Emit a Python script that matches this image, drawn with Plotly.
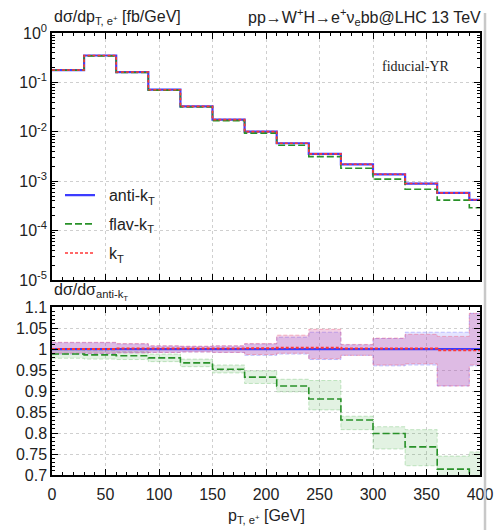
import plotly.graph_objects as go
from plotly.subplots import make_subplots

# ---------------- data ----------------
bin_edges = [0, 30, 60, 90, 120, 150, 180, 210, 240, 270, 300, 330, 360, 390, 400]

xsec_antikt = [0.178, 0.350, 0.162, 0.0711, 0.0327, 0.0176, 0.0101, 0.00586,
               0.00357, 0.00220, 0.00138, 0.000897, 0.00058, 0.00042]
xsec_flavkt = [0.176, 0.345, 0.159, 0.0697, 0.0317, 0.0168, 0.00942, 0.00534,
               0.00315, 0.00183, 0.00110, 0.000688, 0.000414, 0.00029]
xsec_kt = [0.178, 0.350, 0.162, 0.0712, 0.0327, 0.0176, 0.0101, 0.00588,
           0.00358, 0.00220, 0.00138, 0.000898, 0.00058, 0.00042]

ratio_antikt = [1.0, 1.0, 1.0, 1.0, 1.0, 1.0, 1.0, 1.0, 1.0, 1.0, 1.0, 1.0, 1.0, 1.0]
ratio_flavkt = [0.988, 0.986, 0.984, 0.979, 0.967, 0.952, 0.933, 0.912, 0.881,
                0.831, 0.799, 0.767, 0.714, 0.690]
ratio_kt = [1.000, 1.000, 1.001, 1.001, 1.001, 1.001, 1.002, 1.003, 1.003,
            1.001, 1.001, 1.001, 0.997, 0.997]

band_antikt_lo = [0.988, 0.989, 0.991, 0.992, 0.993, 0.992, 0.985, 0.988, 0.975,
                  0.985, 0.960, 0.962, 0.912, 0.960]
band_antikt_hi = [1.015, 1.015, 1.012, 1.007, 1.006, 1.007, 1.012, 1.028, 1.040,
                  1.010, 1.025, 1.040, 1.040, 1.085]
band_kt_lo = [0.990, 0.990, 0.991, 0.992, 0.993, 0.992, 0.987, 0.990, 0.977,
              0.985, 0.962, 0.965, 0.912, 0.962]
band_kt_hi = [1.016, 1.016, 1.013, 1.008, 1.007, 1.008, 1.013, 1.033, 1.047,
              1.011, 1.026, 1.035, 1.030, 1.085]
band_flavkt_lo = [0.978, 0.976, 0.975, 0.970, 0.958, 0.943, 0.918, 0.898, 0.855,
                  0.808, 0.762, 0.722, 0.695, 0.650]
band_flavkt_hi = [0.998, 0.996, 0.994, 0.988, 0.976, 0.962, 0.948, 0.928, 0.925,
                  0.840, 0.815, 0.808, 0.745, 0.755]

x_ticks = [0, 50, 100, 150, 200, 250, 300, 350, 400]
y_log_tickvals = [1, 0.1, 0.01, 0.001, 0.0001, 0.00001]
y_log_ticktext = ["10<sup>0</sup>", "10<sup>-1</sup>", "10<sup>-2</sup>",
                  "10<sup>-3</sup>", "10<sup>-4</sup>", "10<sup>-5</sup>"]
y_ratio_tickvals = [0.7, 0.75, 0.8, 0.85, 0.9, 0.95, 1.0, 1.05, 1.1]
y_ratio_ticktext = ["0.7", "0.75", "0.8", "0.85", "0.9", "0.95", "1", "1.05", "1.1"]

# ---------------- styles ----------------
C_BLUE = "rgb(60,60,255)"
C_GREEN = "rgb(40,145,40)"
C_RED = "rgb(255,55,55)"
FONT = "Liberation Sans, Arial, sans-serif"
NB = "\u00a0\u00a0"


def step(v):
    return list(v) + [v[-1]]


fig = make_subplots(rows=2, cols=1, shared_xaxes=False, vertical_spacing=0.0)

# ---- top panel ----
fig.add_trace(go.Scatter(x=bin_edges, y=step(xsec_antikt), mode="lines", line_shape="hv",
                         line=dict(color=C_BLUE, width=2.2), name=NB + "anti-k<sub>T</sub>",
                         legend="legend"), row=1, col=1)
fig.add_trace(go.Scatter(x=bin_edges, y=step(xsec_flavkt), mode="lines", line_shape="hv",
                         line=dict(color=C_GREEN, width=1.6, dash="7px,3px"),
                         name=NB + "flav-k<sub>T</sub>", legend="legend2"), row=1, col=1)
fig.add_trace(go.Scatter(x=bin_edges, y=step(xsec_kt), mode="lines", line_shape="hv",
                         line=dict(color=C_RED, width=1.6, dash="3px,2px"),
                         name=NB + "k<sub>T</sub>", legend="legend3"), row=1, col=1)


# ---- ratio panel: bands ----
def band(lo, hi, fillcol, edgecol):
    fig.add_trace(go.Scatter(x=bin_edges, y=step(lo), mode="lines", line_shape="hv",
                             line=dict(color=edgecol, width=0.8, dash="4px,2px"),
                             showlegend=False, hoverinfo="skip"), row=2, col=1)
    fig.add_trace(go.Scatter(x=bin_edges, y=step(hi), mode="lines", line_shape="hv",
                             line=dict(color=edgecol, width=0.8, dash="4px,2px"),
                             fill="tonexty", fillcolor=fillcol,
                             showlegend=False, hoverinfo="skip"), row=2, col=1)


band(band_flavkt_lo, band_flavkt_hi, "rgba(60,170,60,0.15)", "rgba(60,170,60,0.35)")
band(band_antikt_lo, band_antikt_hi, "rgba(110,110,255,0.18)", "rgba(90,90,255,0.45)")
band(band_kt_lo, band_kt_hi, "rgba(205,70,150,0.26)", "rgba(240,70,100,0.45)")

fig.add_trace(go.Scatter(x=bin_edges, y=step(ratio_flavkt), mode="lines", line_shape="hv",
                         line=dict(color=C_GREEN, width=1.6, dash="7px,3px"),
                         showlegend=False), row=2, col=1)
fig.add_trace(go.Scatter(x=bin_edges, y=step(ratio_antikt), mode="lines", line_shape="hv",
                         line=dict(color=C_BLUE, width=2.2), showlegend=False), row=2, col=1)
fig.add_trace(go.Scatter(x=bin_edges, y=step(ratio_kt), mode="lines", line_shape="hv",
                         line=dict(color=C_RED, width=2.0, dash="3px,2px"),
                         showlegend=False), row=2, col=1)

axis_common = dict(showline=True, linecolor="black", linewidth=1.5, mirror="allticks",
                   ticks="inside", tickcolor="black", tickwidth=1.2, ticklen=6,
                   showgrid=True, gridcolor="#cfcfcf", griddash="dot", gridwidth=1,
                   zeroline=False, automargin=False,
                   tickfont=dict(family=FONT, size=16, color="#222"))

fig.update_xaxes(**axis_common, range=[0, 400], tickvals=x_ticks,
                 minor=dict(dtick=10, ticks="inside", ticklen=3.5, tickcolor="black",
                            showgrid=False))
fig.update_xaxes(showticklabels=False, row=1, col=1)
fig.update_xaxes(ticklabelstandoff=4, row=2, col=1)

fig.update_yaxes(**axis_common)
fig.update_yaxes(type="log", range=[-5, 0], tickvals=y_log_tickvals, ticktext=y_log_ticktext,
                 minor=dict(dtick="D1", ticks="inside", ticklen=3.5, tickcolor="black",
                            showgrid=False),
                 domain=[0.4412, 1.0], row=1, col=1)
fig.update_yaxes(range=[0.7, 1.1], tickvals=y_ratio_tickvals, ticktext=y_ratio_ticktext,
                 minor=dict(dtick=0.01, ticks="inside", ticklen=3.5, tickcolor="black",
                            showgrid=False),
                 domain=[0.0, 0.380], row=2, col=1)

leg_common = dict(xanchor="left", yanchor="middle", bgcolor="rgba(0,0,0,0)",
                  font=dict(family=FONT, size=16, color="#222"), itemwidth=30,
                  x=0.0187)

fig.update_layout(
    width=495, height=530,
    margin=dict(l=52, r=15, t=33, b=55, autoexpand=False),
    plot_bgcolor="white", paper_bgcolor="white",
    font=dict(family=FONT, size=16, color="#222"),
    showlegend=True,
    legend=dict(**leg_common, y=0.633),
    legend2=dict(**leg_common, y=0.568),
    legend3=dict(**leg_common, y=0.502),
    annotations=[
        dict(text="dσ/dp<sub>T, e<sup>+</sup></sub> [fb/GeV]", xref="paper", yref="paper",
             x=0.0, y=1.036, xanchor="left", yanchor="middle", showarrow=False,
             font=dict(family=FONT, size=16, color="#222")),
        dict(text="pp→W<sup>+</sup>H→e<sup>+</sup>ν<sub>e</sub>bb@LHC 13 TeV",
             xref="paper", yref="paper", x=1.007, y=1.036, xanchor="right",
             yanchor="middle", showarrow=False,
             font=dict(family=FONT, size=16, color="#222")),
        dict(text="fiducial-YR", xref="paper", yref="paper", x=0.9346, y=0.925,
             xanchor="right", yanchor="middle", showarrow=False,
             font=dict(family="Liberation Serif, Times New Roman, serif", size=14,
                       color="#222")),
        dict(text="dσ/dσ<sub>anti-k<sub>T</sub></sub>", xref="paper", yref="paper",
             x=0.0, y=0.414, xanchor="left", yanchor="middle", showarrow=False,
             font=dict(family=FONT, size=16, color="#222")),
        dict(text="p<sub>T, e<sup>+</sup></sub> [GeV]", xref="paper", yref="paper",
             x=0.5, y=-0.095, xanchor="center", yanchor="middle", showarrow=False,
             font=dict(family=FONT, size=16, color="#222")),
    ],
    shapes=[
        dict(type="line", xref="paper", yref="paper", x0=1.0117, x1=1.0117,
             y0=-0.13, y1=1.045, line=dict(color="#c8c8c8", width=2.5)),
    ],
)

fig.write_html("out.html")
